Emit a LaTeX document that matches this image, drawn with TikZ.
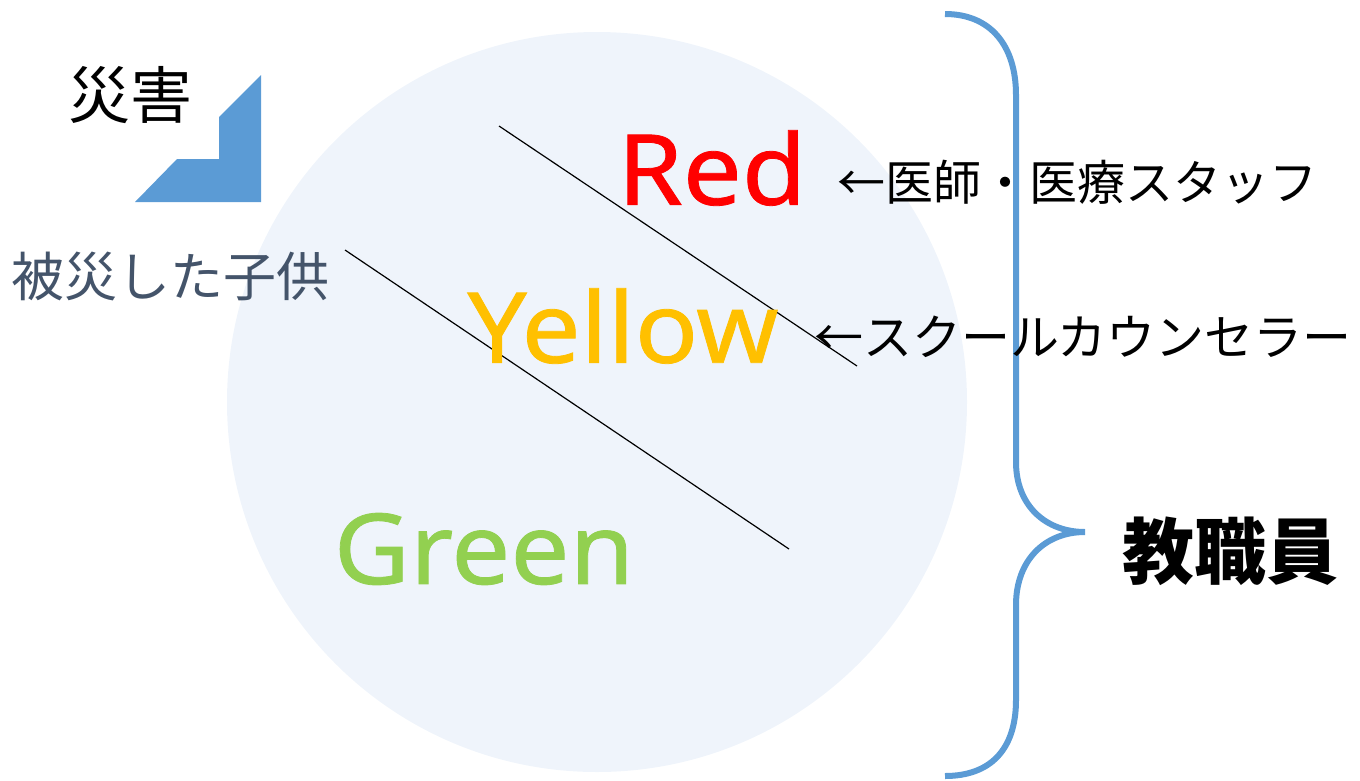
\documentclass[tikz,border=0pt]{standalone}
\usepackage{fontspec}
\newfontfamily\jp{Noto Sans CJK JP}
\newfontfamily\lat[FakeStretch=1.07,FakeBold=0.8]{Noto Sans}
\definecolor{circ}{HTML}{EFF4FB}
\definecolor{bluec}{HTML}{5B9BD5}
\definecolor{slate}{HTML}{44546A}
\definecolor{redc}{HTML}{FF0000}
\definecolor{yelc}{HTML}{FFC000}
\definecolor{grnc}{HTML}{92D050}
\tikzset{
  divider/.style={draw=black, line width=1.2pt},
  bracel/.style={draw=bluec, line width=6pt},
  lbl/.style={inner sep=0pt, anchor=center},
}
\begin{document}
\begin{tikzpicture}[x=1pt,y=-1pt]
\useasboundingbox (0,0) rectangle (1360,780);
% circle
\fill[circ] (597,402) circle (370);
% blue step shape
\fill[bluec] (261,75) -- (261,202) -- (135,202) -- (177,159) -- (219,159) -- (219,117) -- cycle;
% divider lines
\coordinate (l1a) at (499,126);
\coordinate (l1b) at (857,366);
\coordinate (l2a) at (345,250);
\coordinate (l2b) at (789,549);
\draw[divider] (l1a) -- (l1b);
\draw[divider] (l2a) -- (l2b);
% brace
\draw[bracel] (945,14) .. controls (990,14) and (1016,45) .. (1016,95) -- (1016,462) .. controls (1016,505) and (1045,532) .. (1085,532) .. controls (1045,532) and (1016,560) .. (1016,605) -- (1016,700) .. controls (1016,750) and (990,776) .. (945,776);
% texts
\node[lbl] (saigai) at (130,95) {\jp\fontsize{62}{72}\selectfont 災害};
\node[lbl] (child) at (171,276) {\jp\color{slate}\fontsize{53}{62}\selectfont 被災した子供};
\node[lbl] (red) at (712,168) {\lat\color{redc}\fontsize{98}{114}\selectfont Red};
\node[lbl] (yellow) at (623,326) {\lat\color{yelc}\fontsize{98}{114}\selectfont Yellow};
\node[lbl] (green) at (484,549) {\lat\color{grnc}\fontsize{98}{114}\selectfont Green};
\node[lbl] (med) at (1077,182) {\jp\fontsize{48}{56}\selectfont ←医師・医療スタッフ};
\node[lbl] (couns) at (1083,337) {\jp\fontsize{49}{58}\selectfont ←スクールカウンセラー};
\node[lbl] (staff) at (1230,551) {\jp\bfseries\fontsize{72}{84}\selectfont 教職員};
\end{tikzpicture}
\end{document}
